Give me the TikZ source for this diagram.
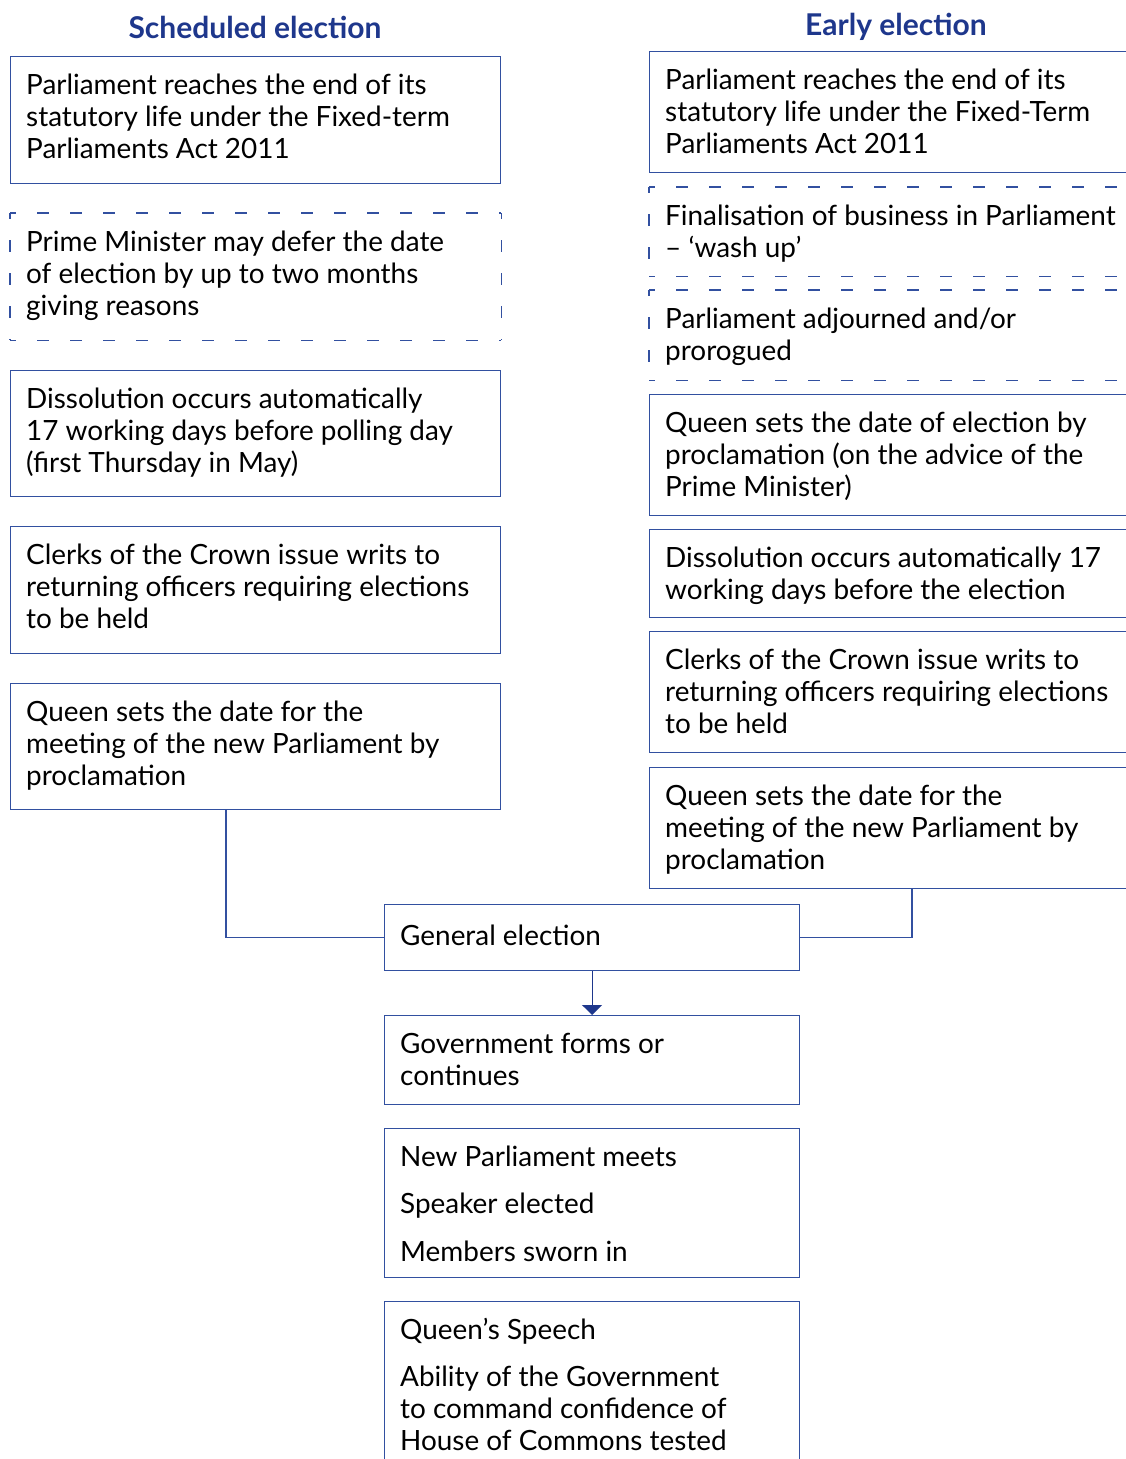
\documentclass[tikz,border=0pt]{standalone}
\usepackage{fontspec}
\setmainfont{Lato}
\usetikzlibrary{calc,arrows.meta}
\definecolor{bord}{RGB}{50,80,160}
\definecolor{head}{RGB}{30,55,140}
\newcommand\fstr{\rule{0pt}{25pt}}
\newcommand\dashsides[1]{%
  \draw[dsh] (#1.north west) -- (#1.north east);
  \draw[dsh] (#1.north west) -- (#1.south west);
  \draw[dsh] (#1.south west) -- (#1.south east);
  \draw[dsh] (#1.north east) -- (#1.south east);}
\begin{document}
\begin{tikzpicture}[x=1pt,y=-1pt,
  box/.style={draw=bord, line width=1.2pt, inner sep=0pt, anchor=north west},
  dbox/.style={box, draw=none},
  dsh/.style={draw=bord, line width=1.2pt, dash pattern=on 12pt off 21pt, dash phase=6pt},
  txt/.style={anchor=north west, inner sep=0pt, align=left, font=\fontsize{27.9}{32}\selectfont, text=black},
  hd/.style={font=\fontsize{30}{32}\selectfont\bfseries, text=head, inner sep=0pt},
  conn/.style={draw=bord, line width=1.2pt}]
\clip (0,0) rectangle (1126,1459);
\fill[white] (0,0) rectangle (1126,1459);
% headings
\node[hd] (h1) at (255,27) {Scheduled election};
\node[hd] (h2) at (896,27) {Early election};
% left column
\node[box, minimum width=490pt, minimum height=127pt] (l1) at (10,56) {};
\node[txt] (tl1) at (26,69) {\fstr Parliament reaches the end of its\\statutory life under the Fixed-term\\Parliaments Act 2011};
\node[dbox, minimum width=490pt, minimum height=126pt] (l2) at (10,213) {};
\dashsides{l2}
\node[txt] (tl2) at (26,226) {\fstr Prime Minister may defer the date\\of election by up to two months\\giving reasons};
\node[box, minimum width=490pt, minimum height=126pt] (l3) at (10,370) {};
\node[txt] (tl3) at (26,383) {\fstr Dissolution occurs automatically\\17 working days before polling day\\(first Thursday in May)};
\node[box, minimum width=490pt, minimum height=127pt] (l4) at (10,526) {};
\node[txt] (tl4) at (26,539) {\fstr Clerks of the Crown issue writs to\\returning officers requiring elections\\to be held};
\node[box, minimum width=490pt, minimum height=126pt] (l5) at (10,683) {};
\node[txt] (tl5) at (26,696) {\fstr Queen sets the date for the\\meeting of the new Parliament by\\proclamation};
% right column
\node[box, minimum width=500pt, minimum height=121pt] (r1) at (649,51) {};
\node[txt] (tr1) at (665,64) {\fstr Parliament reaches the end of its\\statutory life under the Fixed-Term\\Parliaments Act 2011};
\node[dbox, minimum width=500pt, minimum height=88pt] (r2) at (649,187) {};
\dashsides{r2}
\node[txt] (tr2) at (665,200) {\fstr Finalisation of business in Parliament\\– ‘wash up’};
\node[dbox, minimum width=500pt, minimum height=89pt] (r3) at (649,290) {};
\dashsides{r3}
\node[txt] (tr3) at (665,303) {\fstr Parliament adjourned and/or\\prorogued};
\node[box, minimum width=500pt, minimum height=121pt] (r4) at (649,394) {};
\node[txt] (tr4) at (665,407) {\fstr Queen sets the date of election by\\proclamation (on the advice of the\\Prime Minister)};
\node[box, minimum width=500pt, minimum height=88pt] (r5) at (649,529) {};
\node[txt] (tr5) at (665,542) {\fstr Dissolution occurs automatically 17\\working days before the election};
\node[box, minimum width=500pt, minimum height=121pt] (r6) at (649,631) {};
\node[txt] (tr6) at (665,644) {\fstr Clerks of the Crown issue writs to\\returning officers requiring elections\\to be held};
\node[box, minimum width=500pt, minimum height=121pt] (r7) at (649,767) {};
\node[txt] (tr7) at (665,780) {\fstr Queen sets the date for the\\meeting of the new Parliament by\\proclamation};
% centre column
\node[box, minimum width=415pt, minimum height=66pt] (ge) at (384,904) {};
\node[txt] (tge) at (400,920) {\fstr General election};
\node[box, minimum width=415pt, minimum height=89pt] (gov) at (384,1015) {};
\node[txt] (tgov) at (400,1028) {\fstr Government forms or\\continues};
\node[box, minimum width=415pt, minimum height=149pt] (np) at (384,1128) {};
\node[txt] (tnp) at (400,1141) {\fstr New Parliament meets\\[15.5pt]Speaker elected\\[15.5pt]Members sworn in};
\node[box, minimum width=415pt, minimum height=200pt] (qs) at (384,1301) {};
\node[txt] (tqs) at (400,1314) {\fstr Queen’s Speech\\[15pt]Ability of the Government\\to command confidence of\\House of Commons tested};
% connectors
\draw[conn] ($(l5.south west)+(216,0)$) |- (ge.west);
\draw[conn] ($(r7.south west)+(263,0)$) |- (ge.east);
\draw[conn, draw=head, -{Triangle[width=20pt,length=10pt]}] (ge.south) -- (gov.north);
\end{tikzpicture}
\end{document}
